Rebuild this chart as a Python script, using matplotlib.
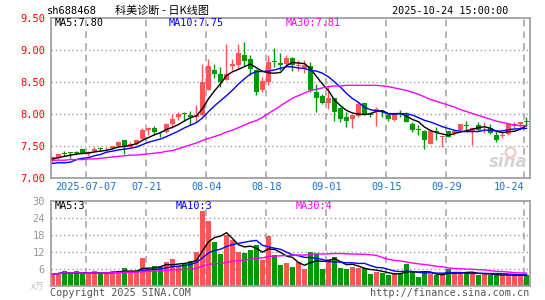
import numpy as np
import pandas as pd
import matplotlib
matplotlib.use("Agg")
import matplotlib.pyplot as plt

# ---- data (daily candles 2025-06-27 .. 2025-10-24) ----
opens = [7.26, 7.30, 7.38, 7.40, 7.40, 7.44, 7.36, 7.42, 7.46, 7.44,
         7.46, 7.49, 7.58, 7.48, 7.53, 7.60, 7.75, 7.78, 7.70, 7.71,
         7.84, 7.94, 8.00, 7.98, 7.95, 7.97, 8.36, 8.68, 8.62, 8.52,
         8.74, 8.76, 8.92, 8.85, 8.68, 8.36, 8.50, 8.82, 8.79, 8.77,
         8.86, 8.74, 8.71, 8.75, 8.34, 8.28, 8.17, 8.24, 8.08, 7.94,
         7.92, 7.96, 8.16, 7.99, 8.02, 8.04, 7.98, 7.90, 8.00, 7.97,
         7.84, 7.76, 7.73, 7.52, 7.72, 7.63, 7.72, 7.69, 7.74, 7.82,
         7.72, 7.82, 7.80, 7.77, 7.66, 7.65, 7.68, 7.81, 7.83, 7.88]
highs = [7.34, 7.37, 7.42, 7.40, 7.42, 7.45, 7.42, 7.47, 7.48, 7.48,
         7.50, 7.56, 7.59, 7.56, 7.59, 7.77, 7.79, 7.80, 7.73, 7.85,
         8.00, 8.03, 8.03, 8.04, 8.13, 8.78, 8.85, 8.78, 8.72, 9.08,
         8.85, 9.09, 9.12, 8.91, 8.70, 8.57, 8.91, 9.03, 8.94, 8.92,
         8.88, 8.84, 8.84, 8.80, 8.46, 8.31, 8.44, 8.25, 8.10, 8.03,
         7.97, 8.18, 8.17, 8.02, 8.10, 8.05, 8.01, 8.01, 8.05, 8.02,
         7.87, 7.82, 7.74, 7.74, 7.79, 7.65, 7.73, 7.75, 7.84, 7.89,
         7.77, 7.87, 7.87, 7.84, 7.74, 7.70, 7.85, 7.87, 7.87, 7.94]
lows = [7.25, 7.29, 7.33, 7.31, 7.35, 7.37, 7.33, 7.40, 7.41, 7.41,
        7.45, 7.48, 7.36, 7.47, 7.51, 7.59, 7.67, 7.66, 7.63, 7.70,
        7.77, 7.90, 7.88, 7.82, 7.86, 7.96, 8.36, 8.55, 8.42, 8.52,
        8.68, 8.70, 8.74, 8.60, 8.29, 8.33, 8.44, 8.73, 8.68, 8.74,
        8.67, 8.66, 8.64, 8.33, 8.03, 8.15, 8.07, 7.89, 7.86, 7.79,
        7.77, 7.95, 7.97, 7.94, 7.81, 7.95, 7.89, 7.88, 7.94, 7.86,
        7.71, 7.66, 7.44, 7.52, 7.58, 7.48, 7.63, 7.66, 7.73, 7.75,
        7.51, 7.73, 7.70, 7.68, 7.56, 7.61, 7.66, 7.77, 7.77, 7.80]
closes = [7.32, 7.36, 7.37, 7.39, 7.39, 7.37, 7.40, 7.45, 7.45, 7.45,
          7.49, 7.55, 7.49, 7.53, 7.58, 7.75, 7.77, 7.71, 7.69, 7.84,
          7.91, 7.99, 7.99, 7.95, 7.97, 8.49, 8.75, 8.61, 8.50, 8.62,
          8.78, 8.94, 8.82, 8.70, 8.33, 8.51, 8.81, 8.80, 8.76, 8.86,
          8.76, 8.76, 8.76, 8.36, 8.25, 8.17, 8.24, 8.03, 7.92, 7.88,
          7.97, 8.15, 8.00, 7.98, 8.07, 8.02, 7.92, 8.00, 7.99, 7.87,
          7.75, 7.75, 7.58, 7.72, 7.71, 7.64, 7.64, 7.73, 7.83, 7.81,
          7.77, 7.75, 7.81, 7.70, 7.58, 7.66, 7.84, 7.83, 7.87, 7.87]
volumes = [4.1, 4.7, 5.2, 4.1, 5.2, 4.1, 4.1, 5.2, 4.5, 4.7,
           5.2, 5.4, 6.2, 4.7, 4.7, 9.8, 5.9, 6.9, 6.7, 8.4,
           9.5, 7.2, 7.8, 8.7, 11.9, 26.4, 22.8, 15.4, 11.2, 18.0,
           16.1, 11.9, 11.5, 12.6, 14.4, 9.1, 17.5, 10.8, 7.3, 8.0,
           6.7, 8.5, 5.9, 12.0, 11.1, 5.9, 9.4, 10.1, 6.2, 5.9,
           6.6, 6.2, 6.2, 4.1, 4.8, 4.5, 3.8, 4.1, 4.5, 7.6,
           5.2, 3.1, 4.7, 4.1, 3.8, 4.1, 5.9, 4.5, 4.5, 4.9,
           4.5, 3.8, 4.1, 3.8, 3.8, 3.8, 4.1, 3.4, 3.8, 3.8]
# MA30 of price (needs history before the window)
ma30_price = [7.27, 7.27, 7.27, 7.28, 7.28, 7.28, 7.29, 7.29, 7.30, 7.31,
              7.32, 7.33, 7.34, 7.35, 7.35, 7.36, 7.37, 7.38, 7.39, 7.41,
              7.42, 7.45, 7.48, 7.51, 7.54, 7.58, 7.61, 7.64, 7.67, 7.71,
              7.74, 7.78, 7.82, 7.86, 7.89, 7.94, 8.00, 8.06, 8.12, 8.18,
              8.24, 8.28, 8.32, 8.36, 8.38, 8.40, 8.42, 8.43, 8.43, 8.44,
              8.44, 8.44, 8.44, 8.44, 8.44, 8.43, 8.42, 8.40, 8.38, 8.36,
              8.33, 8.30, 8.26, 8.22, 8.19, 8.16, 8.13, 8.10, 8.06, 8.03,
              8.00, 7.97, 7.94, 7.91, 7.88, 7.86, 7.84, 7.82, 7.81, 7.81]
# first points of MA5 / MA10 (window starts before the chart)
ma5_head = [7.29, 7.31, 7.33, 7.35]
ma10_head = [7.22, 7.23, 7.23, 7.24, 7.28, 7.30, 7.31, 7.34, 7.36]

date_ticks = [6, 16, 26, 36, 46, 56, 66, 79]
date_labels = ["2025-07-07", "07-21", "08-04", "08-18", "09-01", "09-15", "09-29", "10-24"]
price_ticks = [7.00, 7.50, 8.00, 8.50, 9.00, 9.50]
vol_ticks = [6, 12, 18, 24, 30]

RED = "#ff5555"
GREEN = "#009900"
GRID = "#a8a8a8"
MONO = "DejaVu Sans Mono"

df = pd.DataFrame({"o": opens, "h": highs, "l": lows, "c": closes, "v": volumes})
ma5 = df["c"].rolling(5).mean().values
ma10 = df["c"].rolling(10).mean().values
ma5[:4] = ma5_head
ma10[:9] = ma10_head
vma5 = df["v"].rolling(5, min_periods=1).mean()
vma10 = df["v"].rolling(10, min_periods=1).mean()
vma30 = df["v"].rolling(30, min_periods=1).mean()

n = len(df)
x = np.arange(n)
up = df["c"] >= df["o"]
cols = np.where(up, RED, GREEN)

W, H = 545, 300
fig = plt.figure(figsize=(W / 100, H / 100), dpi=100)
fig.patch.set_facecolor("white")

def px_axes(left, top, right, bottom):
    return fig.add_axes([left / W, 1 - bottom / H, (right - left) / W, (bottom - top) / H])

ax = px_axes(50.5, 17.5, 529.5, 177.5)
axv = px_axes(50.5, 200.7, 529.5, 286)

for a in (ax, axv):
    a.set_xlim(-0.333, 79.5)
    for s in a.spines.values():
        s.set_color("#a0a0a0")
        s.set_linewidth(1.3)
    for t in date_ticks:
        a.axvline(t - 0.38, color=GRID, lw=1.2, ls=(0, (4, 3)), zorder=0)
    a.tick_params(length=0)

# ---- price panel ----
ax.set_ylim(7.0, 9.5)
for p in price_ticks[1:-1]:
    ax.axhline(p, color="#a0a0a0", lw=1.0, ls=(0, (1, 2)), zorder=0)
ax.set_yticks(price_ticks)
ax.set_yticklabels(["%.2f" % p for p in price_ticks], color="red",
                   fontfamily=MONO, fontsize=7.5)
ax.tick_params(axis="y", pad=4)
ax.set_xticks([t - 0.38 for t in date_ticks])
ax.set_xticklabels(date_labels, color="#1874cd", fontfamily=MONO, fontsize=7.3)
ax.tick_params(axis="x", pad=3)
ax.get_xticklabels()[-1].set_horizontalalignment("right")
ax.get_xticklabels()[-1].set_x(79.4)

body_lo = np.minimum(df["o"], df["c"])
body_h = np.maximum((df["c"] - df["o"]).abs(), 0.012)
ax.vlines(x, df["l"], df["h"], colors=cols, lw=1.0, zorder=2)
ax.bar(x, body_h, bottom=body_lo, width=0.8, color=cols, lw=0, zorder=3)
ax.plot(x, ma5, color="black", lw=1.0, zorder=4)
ax.plot(x, ma10, color="blue", lw=1.0, zorder=4)
ax.plot(x, ma30_price, color="magenta", lw=1.0, zorder=4)

ax.text(0.3, 9.42, "MA5:7.80", color="black", fontfamily=MONO, fontsize=7.3, va="center")
ax.text(19.4, 9.42, "MA10:7.75", color="blue", fontfamily=MONO, fontsize=7.3, va="center")
ax.text(38.8, 9.42, "MA30:7.81", color="magenta", fontfamily=MONO, fontsize=7.3, va="center")
# sina watermark
ax.text(79.2, 7.25, "sina", color="#d4d4d4", fontsize=12, fontweight="bold",
        fontstyle="italic", ha="right", va="center", zorder=1)
ax.plot([76.3], [7.40], marker="o", ms=7, mfc="none", mec="#f3c4c4", mew=1.5, zorder=1)

# ---- volume panel ----
axv.set_ylim(0, 30)
for v in vol_ticks[:-1]:
    axv.axhline(v, color="#a0a0a0", lw=1.0, ls=(0, (1, 2)), zorder=0)
axv.set_yticks(vol_ticks)
axv.set_yticklabels([str(v) for v in vol_ticks], color="#999999",
                    fontfamily=MONO, fontsize=7.5)
axv.tick_params(axis="y", pad=4)
axv.set_xticks([])
axv.bar(x, df["v"], width=0.8, color=cols, lw=0, zorder=2)
axv.plot(x, vma5, color="black", lw=1.0, zorder=3)
axv.plot(x, vma10, color="blue", lw=1.0, zorder=3)
axv.plot(x, vma30, color="magenta", lw=1.0, zorder=3)
axv.text(0.3, 28.2, "MA5:3", color="black", fontfamily=MONO, fontsize=7.3, va="center")
axv.text(20.6, 28.2, "MA10:3", color="blue", fontfamily=MONO, fontsize=7.3, va="center")
axv.text(40.6, 28.2, "MA30:4", color="magenta", fontfamily=MONO, fontsize=7.3, va="center")

# ---- header / footer ----
def ftext(px, py, s, **kw):
    fig.text(px / W, 1 - py / H, s, va="center", **kw)

ftext(47, 11, "sh688468", color="black", fontfamily=MONO, fontsize=7.5)
ftext(115, 11, "科美诊断 - 日K线图", color="black",
      fontfamily=["Noto Sans CJK SC", "DejaVu Sans"], fontsize=8)
ftext(508, 11, "2025-10-24 15:00:00", color="black", fontfamily=MONO,
      fontsize=7.3, ha="right")
ftext(44, 287, "x万", color="#c0c0c0", fontfamily=["Noto Sans CJK SC", "DejaVu Sans"],
      fontsize=6.5, ha="right", fontstyle="italic")
ftext(50, 293, "Copyright 2025 SINA.COM", color="#555555", fontfamily=MONO, fontsize=7.3)
ftext(529, 293, "http://finance.sina.com.cn", color="#555555", fontfamily=MONO,
      fontsize=7.3, ha="right")

fig.savefig("out.png", dpi=100, facecolor="white")
